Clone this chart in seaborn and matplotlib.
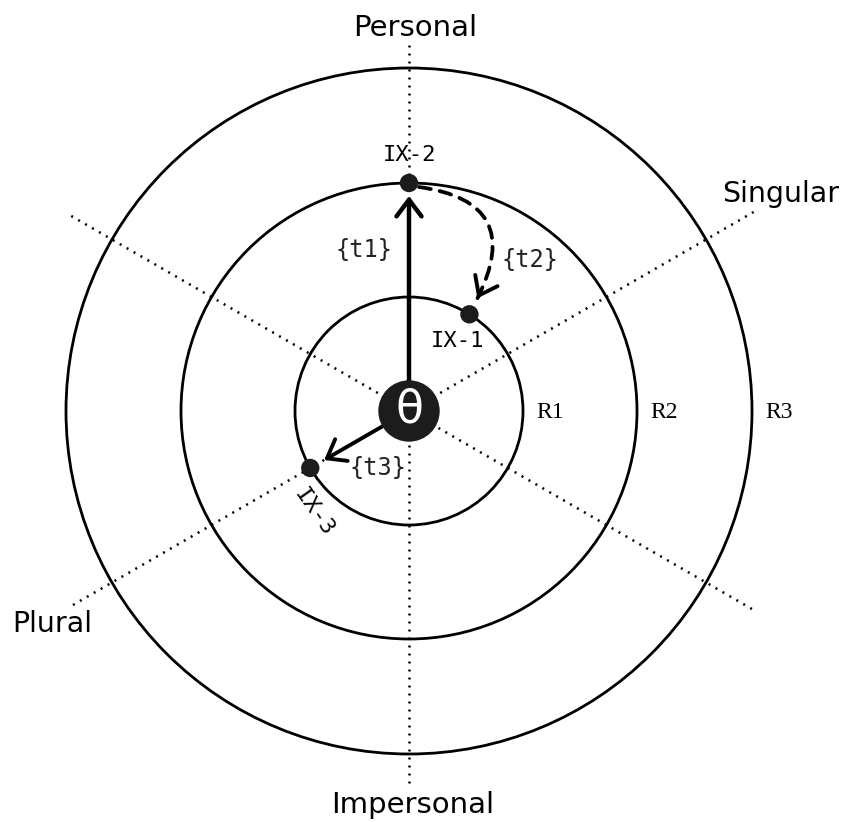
import numpy as np
import pandas as pd
import seaborn as sns
import matplotlib.pyplot as plt
from matplotlib.patches import Circle

# rings
ring_radii = [114, 228, 343]
ring_labels = ['R1', 'R2', 'R3']

# dotted axes (angle in degrees, half length each way)
axis_angles = [90, 30, 150]
axis_half_len = [[366, 372], [398, 394], [390, 402]]
pole_labels = ['Personal', 'Impersonal', 'Singular', 'Plural']

# points on the rings
point_names = ['IX-1', 'IX-2', 'IX-3']
point_radius = [114, 228, 114]
point_angle = [58, 90, 210]

transition_labels = ['{t1}', '{t2}', '{t3}']


def polar(r, deg):
    a = np.deg2rad(deg)
    return r * np.cos(a), r * np.sin(a)


def main():
    sns.set_style('white')
    plt.rcParams['font.family'] = ['DejaVu Sans']
    plt.rcParams['text.color'] = 'black'

    fig = plt.figure(figsize=(8.5, 8.22), dpi=100)
    ax = fig.add_axes([0, 0, 1, 1])
    ax.set_xlim(-409, 441)
    ax.set_ylim(-411, 411)
    ax.set_aspect('equal')
    ax.axis('off')

    # dotted axis lines
    for ang, (l1, l2) in zip(axis_angles, axis_half_len):
        x1, y1 = polar(l1, ang)
        x2, y2 = polar(-l2, ang)
        ax.plot([x1, x2], [y1, y2], color='black', lw=1.8,
                linestyle=(0, (0.8, 2.4)), zorder=1)

    # rings
    for r in ring_radii:
        ax.add_patch(Circle((0, 0), r, fill=False, color='black', lw=2.0, zorder=2))
    for r, lab in zip(ring_radii, ring_labels):
        ax.text(r + 27, -2, lab, fontsize=17, family='Liberation Serif',
                ha='center', va='center')

    # pole labels
    ax.text(6, 383, pole_labels[0], fontsize=21, ha='center', va='center')
    ax.text(4, -394, pole_labels[1], fontsize=21, ha='center', va='center')
    ax.text(372, 217, pole_labels[2], fontsize=20.5, ha='center', va='center')
    ax.text(-357, -213, pole_labels[3], fontsize=20.5, ha='center', va='center')

    # points
    pts = pd.DataFrame({
        'name': point_names,
        'x': [polar(r, a)[0] for r, a in zip(point_radius, point_angle)],
        'y': [polar(r, a)[1] for r, a in zip(point_radius, point_angle)],
    })
    sns.scatterplot(data=pts, x='x', y='y', s=175, color='#1c1c1c',
                    edgecolor='none', ax=ax, zorder=6, legend=False)

    mono = 'DejaVu Sans Mono'
    ax.text(49, 70, point_names[0], fontsize=16, family=mono, ha='center', va='center')
    ax.text(1, 256, point_names[1], fontsize=16, family=mono, ha='center', va='center')
    ax.text(-95, -101, point_names[2], fontsize=16, family=mono, ha='center',
            va='center', rotation=-55)

    # centre
    ax.add_patch(Circle((0, 0), 30, color='#1c1c1c', zorder=5))
    ax.text(0, 1, 'θ', color='white', fontsize=33, ha='center', va='center', zorder=7)

    head = '->,head_length=0.6,head_width=0.45'

    # t1: centre -> IX-2
    x2, y2 = pts.loc[1, 'x'], pts.loc[1, 'y']
    ax.annotate('', xy=(x2, y2 - 13), xytext=(0, 28),
                arrowprops=dict(arrowstyle=head, lw=3.2, color='black',
                                shrinkA=0, shrinkB=0, mutation_scale=20), zorder=4)
    ax.text(-45, 161, transition_labels[0], fontsize=17, family=mono,
            ha='center', va='center', color='#222222')

    # t2: IX-2 -> IX-1, dashed curve
    x1, y1 = pts.loc[0, 'x'], pts.loc[0, 'y']
    sx, sy = x2 + 10, y2 - 4
    ex, ey = x1 + 8, y1 + 16
    rad = -0.7
    ax.annotate('', xy=(ex, ey), xytext=(sx, sy),
                arrowprops=dict(arrowstyle='-', lw=2.7, color='black',
                                linestyle=(0, (3.2, 2.4)),
                                connectionstyle=f'arc3,rad={rad}',
                                shrinkA=0, shrinkB=0), zorder=4)
    cx = (sx + ex) / 2 + rad * (ey - sy)
    cy = (sy + ey) / 2 - rad * (ex - sx)
    d = np.array([ex - cx, ey - cy])
    d = d / np.linalg.norm(d)
    ax.annotate('', xy=(ex, ey), xytext=(ex - 4 * d[0], ey - 4 * d[1]),
                arrowprops=dict(arrowstyle=head, lw=2.8, color='black',
                                shrinkA=0, shrinkB=0, mutation_scale=20), zorder=4)
    ax.text(121, 151, transition_labels[1], fontsize=17, family=mono,
            ha='center', va='center', color='#222222')

    # t3: centre -> IX-3
    tx, ty = polar(98, point_angle[2])
    fx, fy = polar(28, point_angle[2])
    ax.annotate('', xy=(tx, ty), xytext=(fx, fy),
                arrowprops=dict(arrowstyle=head, lw=2.8, color='black',
                                shrinkA=0, shrinkB=0, mutation_scale=20), zorder=4)
    ax.text(-31, -57, transition_labels[2], fontsize=17, family=mono,
            ha='center', va='center', color='#222222')

    fig.savefig('out.png', dpi=100)


if __name__ == '__main__':
    main()
